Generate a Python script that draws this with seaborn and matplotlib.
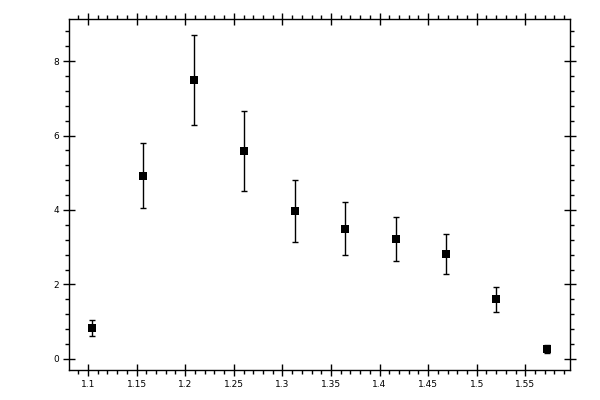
"""Scatter of measured values with asymmetric error bars."""

import matplotlib
matplotlib.use("Agg")
import matplotlib.pyplot as plt
import numpy as np
import pandas as pd
import seaborn as sns
from matplotlib.ticker import MultipleLocator, FuncFormatter

x_vals = [1.1044, 1.157, 1.2086, 1.260, 1.3127, 1.3643, 1.4168, 1.4684, 1.520, 1.5725]
y_vals = [0.82, 4.90, 7.48, 5.58, 3.96, 3.48, 3.21, 2.81, 1.60, 0.26]
y_low = [0.61, 4.04, 6.27, 4.50, 3.14, 2.78, 2.63, 2.27, 1.25, 0.17]
y_high = [1.04, 5.79, 8.70, 6.65, 4.80, 4.21, 3.80, 3.35, 1.92, 0.37]

sns.set_style("ticks")
plt.rcParams["font.family"] = ["DejaVu Sans"]

df = pd.DataFrame({"x": x_vals, "y": y_vals, "lo": y_low, "hi": y_high})

fig = plt.figure(figsize=(6, 4), dpi=100)
ax = fig.add_axes([0.115, 0.075, 0.835, 0.8775])

yerr = np.vstack([df["y"] - df["lo"], df["hi"] - df["y"]])
ax.errorbar(df["x"], df["y"], yerr=yerr, fmt="none", ecolor="black",
            elinewidth=1.0, capsize=2.5, capthick=1.0, zorder=2)
sns.scatterplot(data=df, x="x", y="y", marker="s", color="black", s=30,
                edgecolor="black", linewidth=0, ax=ax, zorder=3)

ax.set_xlim(1.0804, 1.596)
ax.set_ylim(-0.3, 9.13)
ax.set_xlabel("")
ax.set_ylabel("")

ax.xaxis.set_major_locator(MultipleLocator(0.05))
ax.xaxis.set_minor_locator(MultipleLocator(0.01))
ax.yaxis.set_major_locator(MultipleLocator(2))
ax.yaxis.set_minor_locator(MultipleLocator(0.4))
ax.xaxis.set_major_formatter(FuncFormatter(lambda v, p: f"{v:.2f}".rstrip("0").rstrip(".")))
ax.yaxis.set_major_formatter(FuncFormatter(lambda v, p: f"{v:g}"))

for side in ["top", "bottom", "left", "right"]:
    ax.spines[side].set_visible(True)
    ax.spines[side].set_linewidth(1.0)
    ax.spines[side].set_color("black")

ax.tick_params(which="major", direction="inout", length=8, width=1.0,
               top=True, right=True, labelsize=6.5, pad=3, colors="black")
ax.tick_params(which="minor", direction="out", length=3, width=1.0,
               top=True, right=True, colors="black")

fig.savefig("out.png", dpi=100)
